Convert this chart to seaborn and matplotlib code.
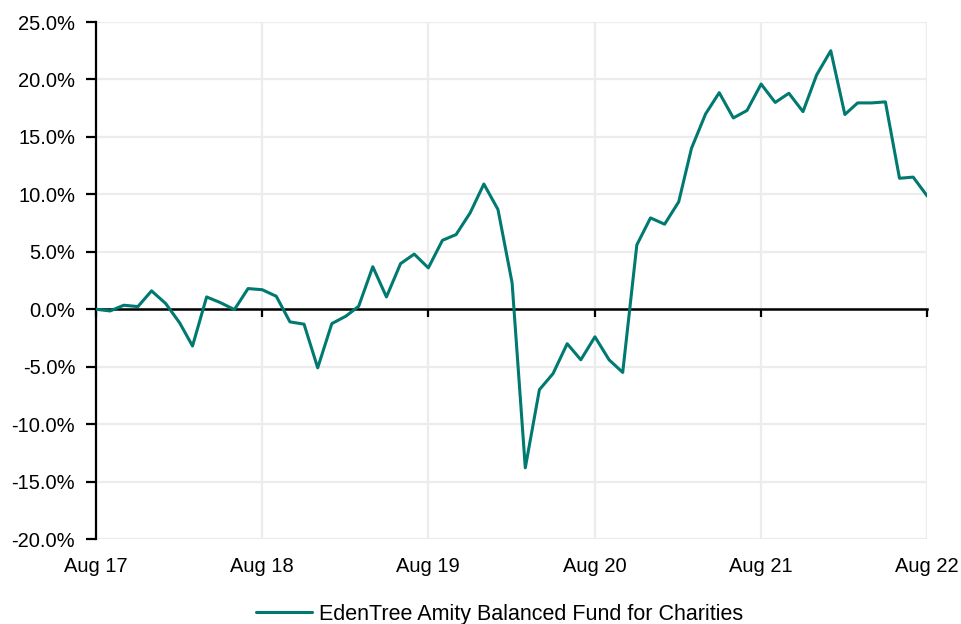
import pandas as pd
import seaborn as sns
import matplotlib.pyplot as plt
from matplotlib.ticker import MultipleLocator, FuncFormatter

# monthly cumulative performance (%), Aug 2017 - Aug 2022
months = pd.date_range('2017-08-01', periods=61, freq='MS')
perf = [0.0, -0.15, 0.35, 0.23, 1.6, 0.5, -1.2, -3.2, 1.07, 0.58, -0.03, 1.8,
        1.7, 1.13, -1.1, -1.3, -5.1, -1.25, -0.6, 0.26, 3.7, 1.07, 3.97, 4.8,
        3.6, 6.0, 6.5, 8.4, 10.9, 8.68, 2.3, -13.8, -7.0, -5.6, -3.0, -4.4,
        -2.4, -4.4, -5.5, 5.6, 7.95, 7.4, 9.35, 14.0, 17.0, 18.85, 16.65, 17.3,
        19.6, 18.0, 18.8, 17.2, 20.4, 22.5, 16.95, 17.96, 17.96, 18.05, 11.4, 11.5,
        9.85]
fund = 'EdenTree Amity Balanced Fund for Charities'
tick_dates = pd.date_range('2017-08-01', periods=6, freq='12MS')
tick_labels = ['Aug 17', 'Aug 18', 'Aug 19', 'Aug 20', 'Aug 21', 'Aug 22']

data = pd.DataFrame({'date': months, 'perf': perf, 'series': fund})

sns.set_style('white')
plt.rcParams['font.family'] = ['Liberation Sans', 'DejaVu Sans']
plt.rcParams['text.color'] = 'black'
plt.rcParams['xtick.labelcolor'] = 'black'
plt.rcParams['ytick.labelcolor'] = 'black'

fig = plt.figure(figsize=(9.61, 6.24), dpi=100)
ax = fig.add_axes([0.0999, 0.1362, 0.865, 0.8285])

sns.lineplot(data=data, x='date', y='perf', hue='series', palette=['#007A70'],
             linewidth=2.2, ax=ax, legend=False, zorder=3)

ax.set_xlim(months[0], months[-1])
ax.set_ylim(-20, 25)
ax.yaxis.set_major_locator(MultipleLocator(5))
ax.yaxis.set_major_formatter(FuncFormatter(lambda v, p: f'{v:.1f}%'))
ax.grid(True, color='#ececec', linewidth=1.6, zorder=0)
ax.set_axisbelow(True)

for s in ['top', 'right']:
    ax.spines[s].set_visible(False)
ax.spines['left'].set_color('black')
ax.spines['left'].set_linewidth(1.6)
ax.spines['bottom'].set_position(('data', 0))
ax.spines['bottom'].set_color('black')
ax.spines['bottom'].set_linewidth(1.8)
ax.spines['bottom'].set_zorder(2)

ax.set_xticks(tick_dates)
ax.tick_params(axis='x', bottom=True, direction='out', length=6, width=1.6,
               color='black', labelbottom=False)
ax.tick_params(axis='y', left=True, direction='out', length=7, width=1.6,
               color='black', labelcolor='black', labelsize=14.5, pad=8)
ax.set_xlabel('')
ax.set_ylabel('')

sec = ax.secondary_xaxis('bottom')
sec.set_xticks(tick_dates)
sec.set_xticklabels(tick_labels)
sec.tick_params(length=0, labelsize=14.5, labelcolor='black', pad=13)
sec.spines['bottom'].set_visible(False)

handle = plt.Line2D([], [], color='#007A70', linewidth=2.2)
fig.legend([handle], [fund], loc='lower center', bbox_to_anchor=(0.52, -0.032),
           frameon=False, fontsize=15.5, handlelength=2.6, handletextpad=0.35,
           labelcolor='black')

fig.savefig('out.png', dpi=100)
